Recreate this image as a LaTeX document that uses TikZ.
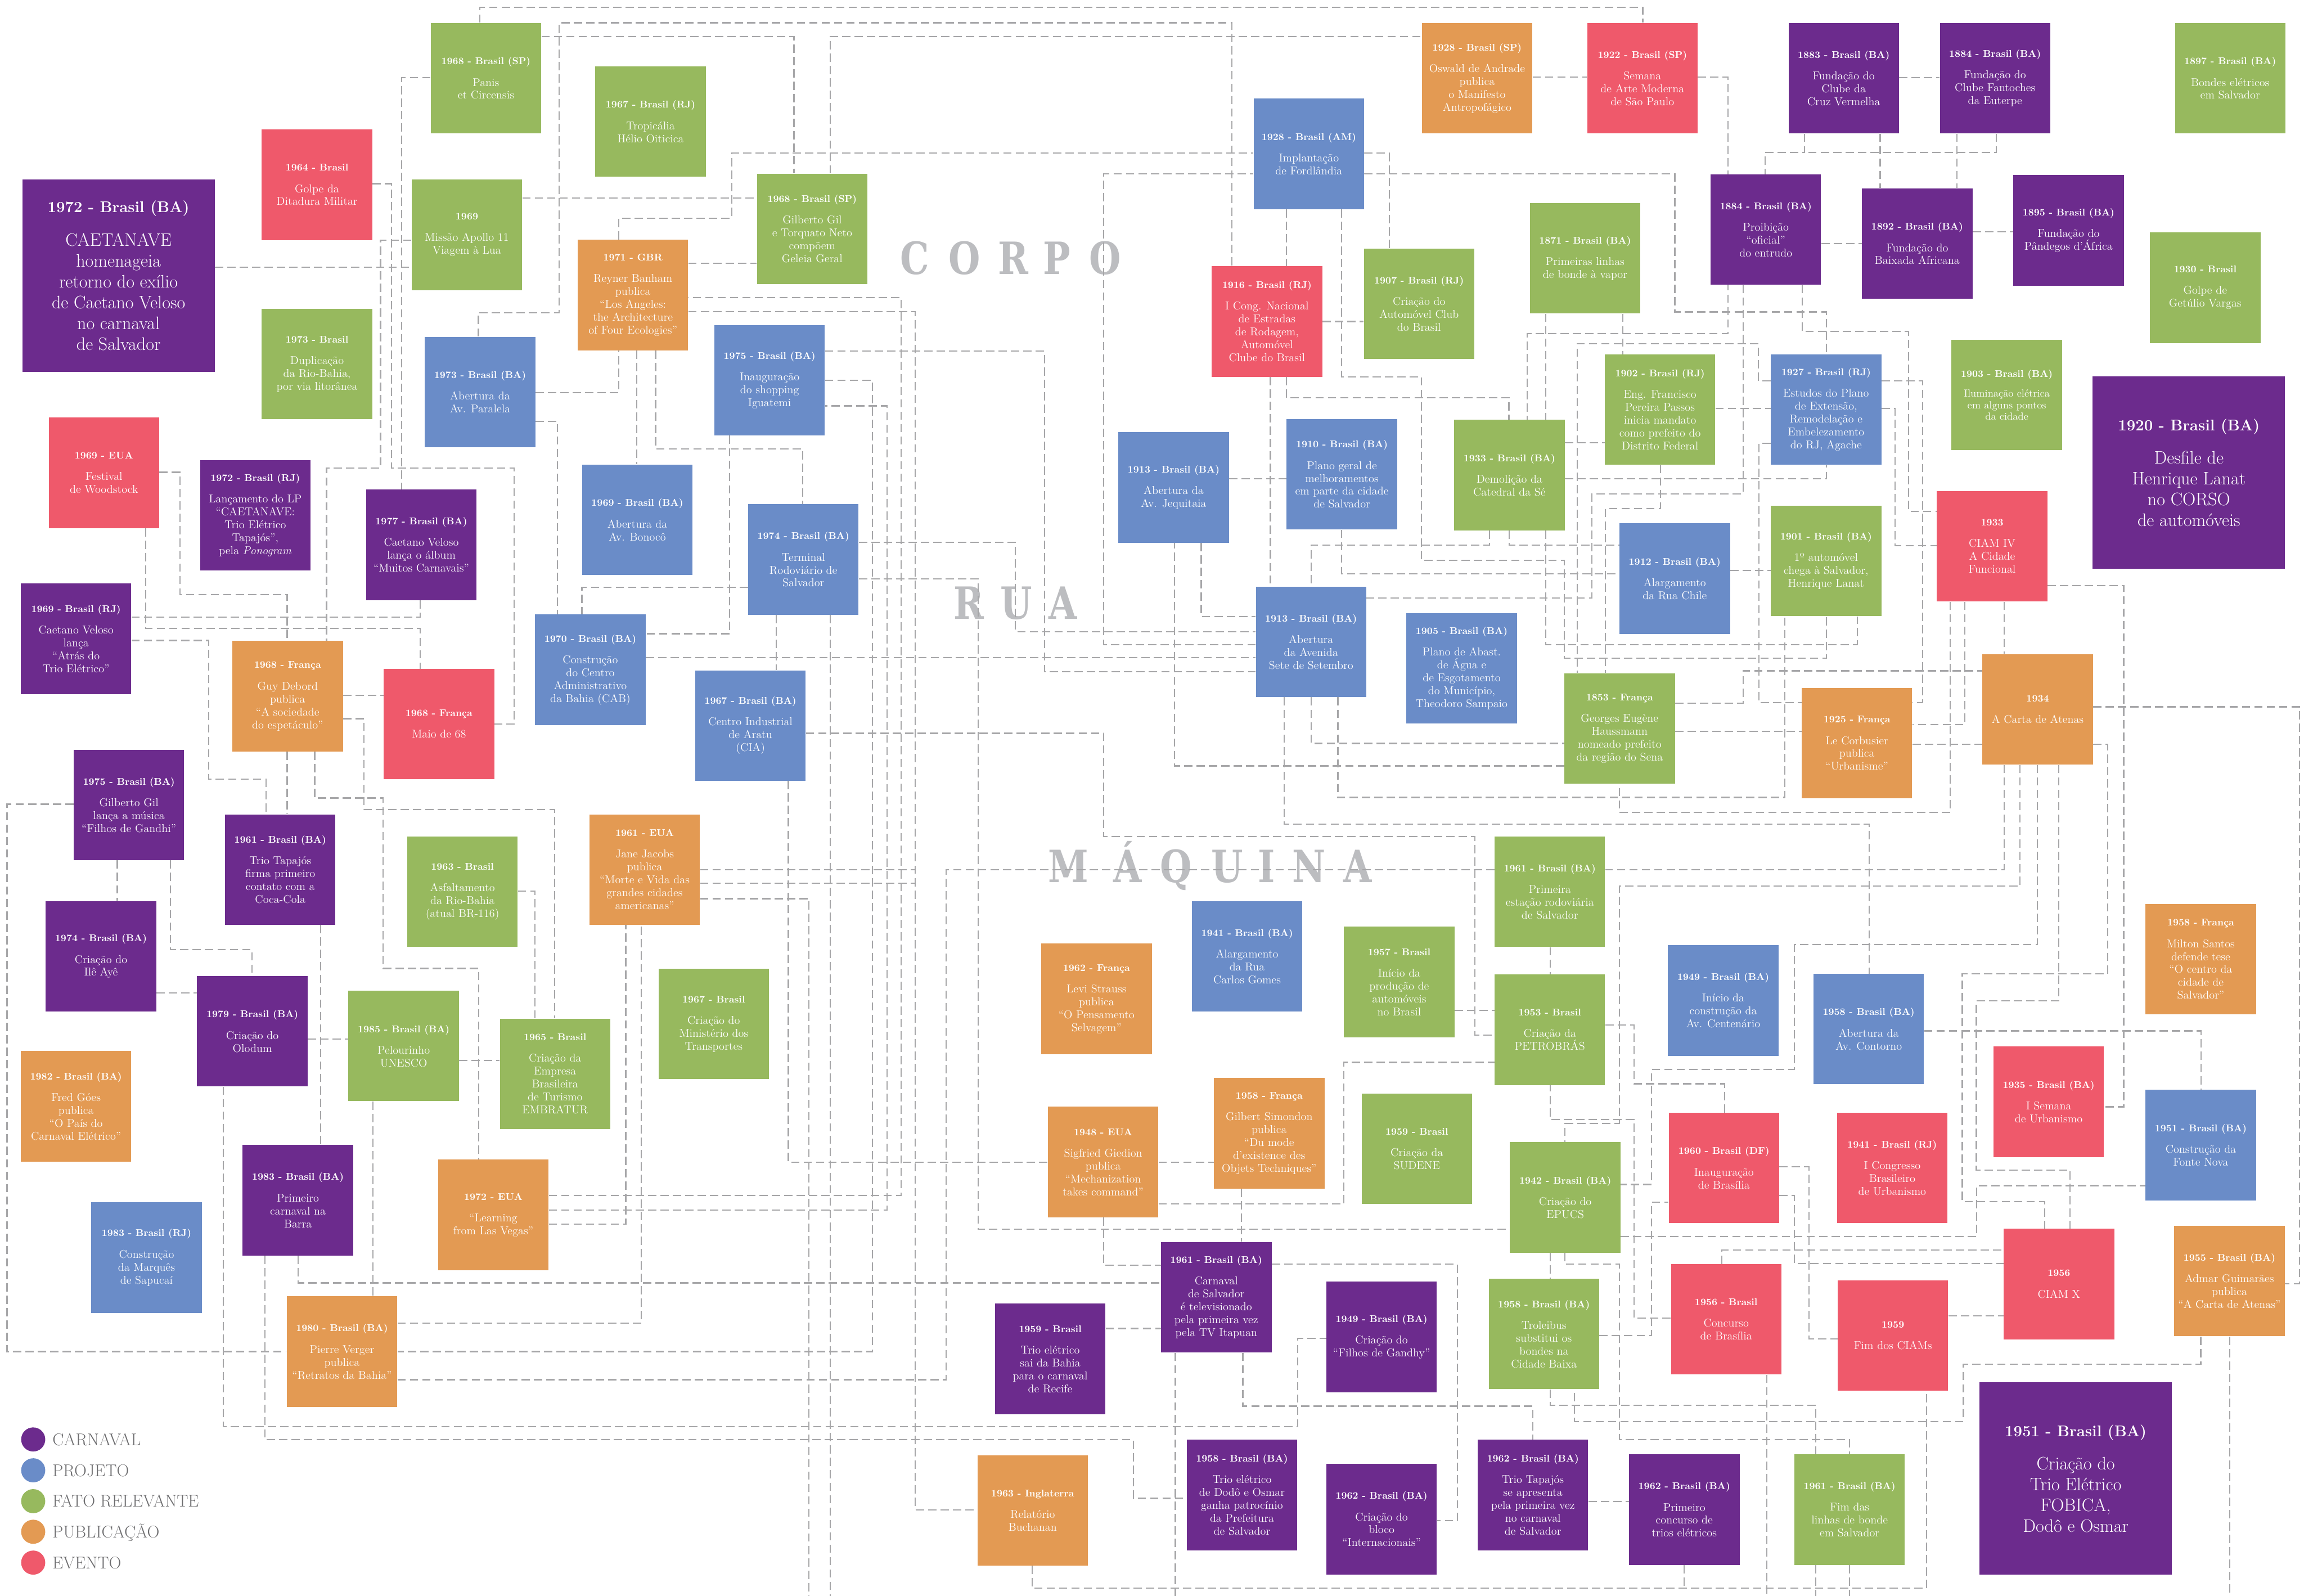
\documentclass[tikz,border=0pt]{standalone}
\usepackage{graphicx}
\usepackage{fontspec}
\newfontfamily\bigletfont{DejaVu Serif}
\definecolor{cpur}{RGB}{108,43,141}
\definecolor{cblu}{RGB}{106,140,200}
\definecolor{cgrn}{RGB}{151,185,94}
\definecolor{corg}{RGB}{227,154,83}
\definecolor{cred}{RGB}{239,89,107}
\definecolor{cline}{RGB}{166,166,168}
\definecolor{cletter}{RGB}{188,189,192}
\definecolor{clegend}{RGB}{110,110,112}
\newcommand\titf{\fontsize{9.5}{12.5}\selectfont\bfseries}
\newcommand\bodf{\fontsize{11}{12.5}\selectfont}
\tikzset{
 box/.style={anchor=north west, minimum width=3.76cm, minimum height=3.76cm, inner sep=1pt, align=center, text=white, font=\bodf},
 bigbox/.style={anchor=north west, minimum width=6.55cm, minimum height=6.55cm, inner sep=1pt, align=center, text=white, font=\fontsize{17.5}{20.2}\selectfont},
 con/.style={draw=cline, line width=1.2pt, dash pattern=on 8pt off 4pt},
 letter/.style={anchor=base, inner sep=0pt, text=cletter, font=\bigletfont\fontsize{43}{43}\selectfont\bfseries},
 legdot/.style={circle, minimum size=0.82cm, inner sep=0pt},
 legtxt/.style={anchor=base west, inner sep=0pt, text=clegend, font=\fontsize{16.5}{16.5}\selectfont},
}
\newcommand\bx[7][]{\node[box,fill=#5,#1] (#2) at (#3,#4) {{\titf #6}\\[8.3pt]#7};}
\newcommand\bbx[6]{\node[bigbox,fill=#4] (#1) at (#2,#3) {{\fontsize{15}{20.2}\selectfont\bfseries #5}\\[12pt]#6};}
\newcommand\lt[1]{\scalebox{0.82}[1]{#1}}
\pgfdeclarelayer{back}
\pgfdeclarelayer{lines}
\pgfsetlayers{back,lines,main}
\begin{document}
\begin{tikzpicture}[x=0.05cm,y=-0.05cm]
\useasboundingbox (0,0) rectangle (1568,1086);
\begin{pgfonlayer}{back}
\fill[white] (0,0) rectangle (1568,1086);
\node[letter] (lc1) at (622.5,186.8) {\lt{C}};
\node[letter] (lc2) at (656.3,186.8) {\lt{O}};
\node[letter] (lc3) at (689.6,186.8) {\lt{R}};
\node[letter] (lc4) at (719.4,186.8) {\lt{P}};
\node[letter] (lc5) at (752,186.8) {\lt{O}};
\node[letter] (lr1) at (659.5,421.2) {\lt{R}};
\node[letter] (lr2) at (691.5,421.2) {\lt{U}};
\node[letter] (lr3) at (723.5,421.2) {\lt{A}};
\node[letter] (lm1) at (727.2,600.5) {\lt{M}};
\node[letter] (lm2) at (767.5,600.5) {\lt{Á}};
\node[letter] (lm3) at (800.3,600.5) {\lt{Q}};
\node[letter] (lm4) at (835.1,600.5) {\lt{U}};
\node[letter] (lm5) at (862,600.5) {\lt{I}};
\node[letter] (lm6) at (890.8,600.5) {\lt{N}};
\node[letter] (lm7) at (924,600.5) {\lt{A}};
\end{pgfonlayer}
% ---------- boxes ----------
\bx{b1968sp}{293}{15.5}{cgrn}{1968 - Brasil (SP)}{Panis\\et Circensis}
\bx{b1967rj}{405}{45}{cgrn}{1967 - Brasil (RJ)}{Tropicália\\Hélio Oiticica}
\bx{b1964}{178}{88}{cred}{1964 - Brasil}{Golpe da\\Ditadura Militar}
\bx{b1969ap}{280}{122}{cgrn}{1969}{Missão Apollo 11\\Viagem à Lua}
\bbx{b1972ba}{15}{122}{cpur}{1972 - Brasil (BA)}{CAETANAVE\\homenageia\\retorno do exílio\\de Caetano Veloso\\no carnaval\\de Salvador}
\bx{b1968gg}{515}{118}{cgrn}{1968 - Brasil (SP)}{Gilberto Gil\\e Torquato Neto\\compõem\\Geleia Geral}
\bx{b1971}{393}{163}{corg}{1971 - GBR}{Reyner Banham\\publica\\“Los Angeles:\\the Architecture\\of Four Ecologies”}
\bx{b1973br}{178}{210}{cgrn}{1973 - Brasil}{Duplicação\\da Rio-Bahia,\\por via litorânea}
\bx{b1975ig}{486}{221}{cblu}{1975 - Brasil (BA)}{Inauguração\\do shopping\\Iguatemi}
\bx{b1973par}{289}{229}{cblu}{1973 - Brasil (BA)}{Abertura da\\Av. Paralela}
\bx{b1969eua}{33}{284}{cred}{1969 - EUA}{Festival\\de Woodstock}
\bx{b1972rj}{136}{313}{cpur}{1972 - Brasil (RJ)}{Lançamento do LP\\“CAETANAVE:\\Trio Elétrico\\Tapajós”,\\pela \textit{Ponogram}}
\bx{b1969bon}{396}{316}{cblu}{1969 - Brasil (BA)}{Abertura da\\Av. Bonocô}
\bx{b1977}{249}{333}{cpur}{1977 - Brasil (BA)}{Caetano Veloso\\lança o álbum\\“Muitos Carnavais”}
\bx{b1974ter}{509}{343}{cblu}{1974 - Brasil (BA)}{Terminal\\Rodoviário de\\Salvador}
\bx{b1969rj}{14}{397}{cpur}{1969 - Brasil (RJ)}{Caetano Veloso\\lança\\“Atrás do\\Trio Elétrico”}
\bx{b1970cab}{364}{418}{cblu}{1970 - Brasil (BA)}{Construção\\do Centro\\Administrativo\\da Bahia (CAB)}
\bx{b1968guy}{158}{436}{corg}{1968 - França}{Guy Debord\\publica\\“A sociedade\\do espetáculo”}
\bx{b1968maio}{261}{455}{cred}{1968 - França}{Maio de 68}
\bx{b1967cia}{473}{456}{cblu}{1967 - Brasil (BA)}{Centro Industrial\\de Aratu\\(CIA)}
\bx{b1975gg}{50}{510}{cpur}{1975 - Brasil (BA)}{Gilberto Gil\\lança a música\\“Filhos de Gandhi”}
\bx{b1961tap}{153}{554}{cpur}{1961 - Brasil (BA)}{Trio Tapajós\\firma primeiro\\contato com a\\Coca-Cola}
\bx{b1961eua}{401}{554}{corg}{1961 - EUA}{Jane Jacobs\\publica\\“Morte e Vida das\\grandes cidades\\americanas”}
\bx{b1963asf}{277}{569}{cgrn}{1963 - Brasil}{Asfaltamento\\da Rio-Bahia\\(atual BR-116)}
\bx{b1974ile}{31}{613}{cpur}{1974 - Brasil (BA)}{Criação do\\Ilê Ayê}
\bx{b1979}{134}{664}{cpur}{1979 - Brasil (BA)}{Criação do\\Olodum}
\bx{b1985}{237}{674}{cgrn}{1985 - Brasil (BA)}{Pelourinho\\UNESCO}
\bx{b1965}{340}{693}{cgrn}{1965 - Brasil}{Criação da\\Empresa\\Brasileira\\de Turismo\\EMBRATUR}
\bx{b1967min}{448}{659}{cgrn}{1967 - Brasil}{Criação do\\Ministério dos\\Transportes}
\bx{b1982}{14}{715}{corg}{1982 - Brasil (BA)}{Fred Góes\\publica\\“O País do\\Carnaval Elétrico”}
\bx{b1983ba}{165}{779}{cpur}{1983 - Brasil (BA)}{Primeiro\\carnaval na\\Barra}
\bx{b1983rj}{62}{818}{cblu}{1983 - Brasil (RJ)}{Construção\\da Marquês\\de Sapucaí}
\bx{b1972eua}{298}{789}{corg}{1972 - EUA}{“Learning\\from Las Vegas”}
\bx{b1980}{195}{882}{corg}{1980 - Brasil (BA)}{Pierre Verger\\publica\\“Retratos da Bahia”}
\bx{b1928sp}{967.5}{15.5}{corg}{1928 - Brasil (SP)}{Oswald de Andrade\\publica\\o Manifesto\\Antropofágico}
\bx{b1922}{1080}{15.5}{cred}{1922 - Brasil (SP)}{Semana\\de Arte Moderna\\de São Paulo}
\bx{b1928am}{853}{67}{cblu}{1928 - Brasil (AM)}{Implantação\\de Fordlândia}
\bx{b1916}{824.5}{181}{cred}{1916 - Brasil (RJ)}{I Cong. Nacional\\de Estradas\\de Rodagem,\\Automóvel\\Clube do Brasil}
\bx{b1907}{928}{169}{cgrn}{1907 - Brasil (RJ)}{Criação do\\Automóvel Club\\do Brasil}
\bx{b1871}{1041}{138}{cgrn}{1871 - Brasil (BA)}{Primeiras linhas\\de bonde à vapor}
\bx{b1902}{1092}{241}{cgrn}{1902 - Brasil (RJ)}{Eng. Francisco\\Pereira Passos\\inicia mandato\\como prefeito do\\Distrito Federal}
\bx{b1933cat}{989.5}{285.5}{cgrn}{1933 - Brasil (BA)}{Demolição da\\Catedral da Sé}
\bx{b1910}{875.5}{285}{cblu}{1910 - Brasil (BA)}{Plano geral de\\melhoramentos\\em parte da cidade\\de Salvador}
\bx{b1913jeq}{761}{294}{cblu}{1913 - Brasil (BA)}{Abertura da\\Av. Jequitaia}
\bx{b1883}{1217}{15.5}{cpur}{1883 - Brasil (BA)}{Fundação do\\Clube da\\Cruz Vermelha}
\bx{b1884f}{1320}{15.5}{cpur}{1884 - Brasil (BA)}{Fundação do\\Clube Fantoches\\da Euterpe}
\bx{b1897}{1480}{15.5}{cgrn}{1897 - Brasil (BA)}{Bondes elétricos\\em Salvador}
\bx{b1884p}{1164}{118.5}{cpur}{1884 - Brasil (BA)}{Proibição\\“oficial”\\do entrudo}
\bx{b1892}{1267}{128}{cpur}{1892 - Brasil (BA)}{Fundação do\\Baixada Africana}
\bx{b1895}{1370}{119}{cpur}{1895 - Brasil (BA)}{Fundação do\\Pândegos d’África}
\bx{b1930}{1463}{158}{cgrn}{1930 - Brasil}{Golpe de\\Getúlio Vargas}
\bx{b1927}{1205}{241}{cblu}{1927 - Brasil (RJ)}{Estudos do Plano\\de Extensão,\\Remodelação e\\Embelezamento\\do RJ, Agache}
\bx[font=\fontsize{10}{11.2}\selectfont]{b1903}{1328}{231}{cgrn}{1903 - Brasil (BA)}{Iluminação elétrica\\em alguns pontos\\da cidade}
\bbx{b1920}{1424}{256}{cpur}{1920 - Brasil (BA)}{Desfile de\\Henrique Lanat\\no CORSO\\de automóveis}
\bx{b1933ciam}{1318}{334}{cred}{1933}{CIAM IV\\A Cidade\\Funcional}
\bx{b1901}{1205}{344}{cgrn}{1901 - Brasil (BA)}{1º automóvel\\chega à Salvador,\\Henrique Lanat}
\bx{b1912}{1102}{356}{cblu}{1912 - Brasil (BA)}{Alargamento\\da Rua Chile}
\bx{b1913sete}{854.5}{399}{cblu}{1913 - Brasil (BA)}{Abertura\\da Avenida\\Sete de Setembro}
\bx{b1905}{957}{417}{cblu}{1905 - Brasil (BA)}{Plano de Abast.\\de Água e\\de Esgotamento\\do Município,\\Theodoro Sampaio}
\bx{b1853}{1064.5}{458}{cgrn}{1853 - França}{Georges Eugène\\Haussmann\\nomeado prefeito\\da região do Sena}
\bx{b1925}{1226}{468}{corg}{1925 - França}{Le Corbusier\\publica\\“Urbanisme”}
\bx{b1934}{1349}{445}{corg}{1934}{A Carta de Atenas}
\bx{b1961prim}{1017}{569}{cgrn}{1961 - Brasil (BA)}{Primeira\\estação rodoviária\\de Salvador}
\bx{b1941ba}{811}{613}{cblu}{1941 - Brasil (BA)}{Alargamento\\da Rua\\Carlos Gomes}
\bx{b1957}{914.5}{630.5}{cgrn}{1957 - Brasil}{Início da\\produção de\\automóveis\\no Brasil}
\bx{b1962levi}{708.5}{642}{corg}{1962 - França}{Levi Strauss\\publica\\“O Pensamento\\Selvagem”}
\bx{b1949cent}{1135}{643}{cblu}{1949 - Brasil (BA)}{Início da\\construção da\\Av. Centenário}
\bx{b1953}{1017}{663}{cgrn}{1953 - Brasil}{Criação da\\PETROBRÁS}
\bx{b1958cont}{1234}{662.5}{cblu}{1958 - Brasil (BA)}{Abertura da\\Av. Contorno}
\bx{b1958milton}{1460}{615}{corg}{1958 - França}{Milton Santos\\defende tese\\“O centro da\\cidade de\\Salvador”}
\bx{b1935}{1356.5}{712}{cred}{1935 - Brasil (BA)}{I Semana\\de Urbanismo}
\bx{b1951fonte}{1460}{741.5}{cblu}{1951 - Brasil (BA)}{Construção da\\Fonte Nova}
\bx{b1948}{713}{753}{corg}{1948 - EUA}{Sigfried Giedion\\publica\\“Mechanization\\takes command”}
\bx{b1958sim}{826}{733.5}{corg}{1958 - França}{Gilbert Simondon\\publica\\“Du mode\\d’existence des\\Objets Techniques”}
\bx{b1959sud}{926.5}{744}{cgrn}{1959 - Brasil}{Criação da\\SUDENE}
\bx{b1942}{1027.5}{777}{cgrn}{1942 - Brasil (BA)}{Criação do\\EPUCS}
\bx{b1960df}{1135.5}{757}{cred}{1960 - Brasil (DF)}{Inauguração\\de Brasília}
\bx{b1941rj}{1250}{757}{cred}{1941 - Brasil (RJ)}{I Congresso\\Brasileiro\\de Urbanismo}
\bx{b1955}{1479.5}{834}{corg}{1955 - Brasil (BA)}{Admar Guimarães\\publica\\“A Carta de Atenas”}
\bx{b1956ciam}{1363.5}{836}{cred}{1956}{CIAM X}
\bx{b1961carn}{790}{845}{cpur}{1961 - Brasil (BA)}{Carnaval\\de Salvador\\é televisionado\\pela primeira vez\\pela TV Itapuan}
\bx{b1956bra}{1137}{860}{cred}{1956 - Brasil}{Concurso\\de Brasília}
\bx{b1958trol}{1013}{870}{cgrn}{1958 - Brasil (BA)}{Troleibus\\substitui os\\bondes na\\Cidade Baixa}
\bx{b1959fim}{1250.5}{871}{cred}{1959}{Fim dos CIAMs}
\bx{b1949gan}{902.5}{872}{cpur}{1949 - Brasil (BA)}{Criação do\\“Filhos de Gandhy”}
\bx{b1959rec}{677}{887}{cpur}{1959 - Brasil}{Trio elétrico\\sai da Bahia\\para o carnaval\\de Recife}
\bbx{b1951big}{1347}{940.5}{cpur}{1951 - Brasil (BA)}{Criação do\\Trio Elétrico\\FOBICA,\\Dodô e Osmar}
\bx{b1958dodo}{807.5}{979.5}{cpur}{1958 - Brasil (BA)}{Trio elétrico\\de Dodô e Osmar\\ganha patrocínio\\da Prefeitura\\de Salvador}
\bx{b1962tap}{1005.5}{979.5}{cpur}{1962 - Brasil (BA)}{Trio Tapajós\\se apresenta\\pela primeira vez\\no carnaval\\de Salvador}
\bx{b1962prim}{1108.5}{989.5}{cpur}{1962 - Brasil (BA)}{Primeiro\\concurso de\\trios elétricos}
\bx{b1961fim}{1221}{989.5}{cgrn}{1961 - Brasil (BA)}{Fim das\\linhas de bonde\\em Salvador}
\bx{b1963ing}{665}{990}{corg}{1963 - Inglaterra}{Relatório\\Buchanan}
\bx{b1962int}{902.5}{996}{cpur}{1962 - Brasil (BA)}{Criação do\\bloco\\“Internacionais”}
% ---------- legend ----------
\node[legdot,fill=cpur] (ld1) at (22.6,979.5) {};
\node[legtxt] (lt1) at (35.6,983.5) {CARNAVAL};
\node[legdot,fill=cblu] (ld2) at (22.6,1000.5) {};
\node[legtxt] (lt2) at (35.6,1004.5) {PROJETO};
\node[legdot,fill=cgrn] (ld3) at (22.6,1021.5) {};
\node[legtxt] (lt3) at (35.6,1025.5) {FATO RELEVANTE};
\node[legdot,fill=corg] (ld4) at (22.6,1042.3) {};
\node[legtxt] (lt4) at (35.6,1046.3) {PUBLICAÇÃO};
\node[legdot,fill=cred] (ld5) at (22.6,1063.3) {};
\node[legtxt] (lt5) at (35.6,1067.3) {EVENTO};
% ---------- free ends / joins ----------
\coordinate (e1) at (550.6,1086);
\coordinate (e2) at (564.9,1086);
\coordinate (e3) at (1235.6,1086);
\coordinate (e4) at (1258.7,1086);
\coordinate (e5) at (1202.5,1086);
\coordinate (e6) at (1517.3,1086);
\coordinate (e7) at (799.9,1086);
\coordinate (j1) at (622.8,591.7);
\coordinate (j2) at (622.8,601);
\coordinate (j3) at (1146,1080.8);
\coordinate (j4) at (1228,103.7);
% ---------- connectors ----------
\begin{pgfonlayer}{lines}
\draw[con] (326.6,0 |- b1968sp.north) -- (326.6,5) -- (1118,5) -- (1118,0 |- b1922.north);
\draw[con] (325.6,0 |- b1973par.north) -- (325.6,212.8) -- (380.5,212.8) -- (380.5,15.5) -- (838.3,15.5) -- (838.3,0 |- b1916.north);
\draw[con] (b1968sp.east |- 0,25) -- (540.3,25) -- (540.3,0 |- b1968gg.north);
\draw[con] (564.9,0 |- b1968gg.north) -- (564.9,25) -- (b1928sp.west |- 0,25);
\draw[con] (b1968sp.west |- 0,52.9) -- (273.4,52.9) -- (273.4,0 |- b1977.north);
\draw[con] (b1964.east |- 0,125) -- (266.4,125) -- (266.4,318.6) -- (350,318.6) -- (350,492.7) -- (b1968maio.east |- 0,492.7);
\draw[con] (b1969ap.west |- 0,163.4) -- (259,163.4) -- (259,318.6) -- (222.2,318.6) -- (222.2,0 |- b1968guy.north);
\draw[con] (b1972ba.east |- 0,181.7) -- (b1969ap.west |- 0,181.7);
\draw[con] (b1969ap.east |- 0,134.6) -- (b1968gg.west |- 0,134.6);
\draw[con] (b1973par.east |- 0,267.3) -- (421.1,267.3) -- (421.1,0 |- b1971.south);
\draw[con] (b1973par.east |- 0,286.6) -- (379.5,286.6) -- (379.5,0 |- b1970cab.north);
\draw[con] (b1969eua.east |- 0,321.4) -- (122.4,321.4) -- (122.4,404.5) -- (195.4,404.5) -- (195.4,0 |- b1968guy.north);
\draw[con] (99,0 |- b1969eua.south) -- (99,427.7) -- (286,427.7) -- (286,0 |- b1968maio.north);
\draw[con] (286,0 |- b1977.south) -- (286,420) -- (b1969rj.east |- 0,420);
\draw[con] (b1969rj.east |- 0,435.8) -- (142,435.8) -- (142,530.3) -- (181,530.3) -- (181,0 |- b1961tap.north);
\draw[con] (195.4,0 |- b1968guy.south) -- (195.4,0 |- b1961tap.north);
\draw[con] (b1968guy.east |- 0,473.2) -- (b1968maio.west |- 0,473.2);
\draw[con] (b1968guy.east |- 0,489) -- (247.6,489) -- (247.6,551) -- (377.5,551) -- (377.5,0 |- b1965.north);
\draw[con] (214.2,0 |- b1968guy.south) -- (214.2,543) -- (260.8,543) -- (260.8,659) -- (325.8,659) -- (325.8,0 |- b1972eua.north);
\draw[con] (b1975gg.west |- 0,547.2) -- (4.8,547.2) -- (4.8,919.7) -- (b1980.west |- 0,919.7);
\draw[con] (79.8,0 |- b1975gg.south) -- (79.8,0 |- b1974ile.north);
\draw[con] (116,0 |- b1975gg.south) -- (116,646.3) -- (171.6,646.3) -- (171.6,0 |- b1979.north);
\draw[con] (b1974ile.east |- 0,675.5) -- (b1979.west |- 0,675.5);
\draw[con] (218.2,0 |- b1961tap.south) -- (218.2,0 |- b1983ba.north);
\draw[con] (b1963asf.east |- 0,606.4) -- (364,606.4) -- (364,0 |- b1965.north);
\draw[con] (b1979.east |- 0,707) -- (b1985.west |- 0,707);
\draw[con] (b1985.east |- 0,721.5) -- (b1965.west |- 0,721.5);
\draw[con] (152,0 |- b1979.south) -- (152,970.7) -- (883,970.7) -- (883,910.7) -- (b1949gan.west |- 0,910.7);
\draw[con] (180.3,0 |- b1983ba.south) -- (180.3,979.7) -- (771.3,979.7) -- (771.3,1019.6) -- (b1958dodo.west |- 0,1019.6);
\draw[con] (203,0 |- b1983ba.south) -- (203,873) -- (b1961carn.west |- 0,873);
\draw[con] (253.8,0 |- b1985.south) -- (253.8,0 |- b1980.north);
\draw[con] (b1980.east |- 0,900.5) -- (436.4,900.5) -- (436.4,0 |- b1961eua.south);
\draw[con] (b1975ig.east |- 0,258.8) -- (593.7,258.8) -- (593.7,919.7) -- (b1980.east |- 0,919.7);
\draw[con] (b1980.east |- 0,938.8) -- (643.9,938.8) -- (643.9,591.7) -- (b1961prim.west |- 0,591.7);
\draw[con] (b1971.east |- 0,212) -- (622.8,212) -- (622.8,1027.3) -- (b1963ing.west |- 0,1027.3);
\draw[con] (b1961eua.east |- 0,591.7) -- (j1);
\draw[con] (b1961eua.east |- 0,601) -- (j2);
\draw[con] (b1972eua.east |- 0,813.4) -- (613.3,813.4) -- (613.3,202.6) -- (b1971.east |- 0,202.6);
\draw[con] (b1972eua.east |- 0,823.4) -- (603.7,823.4) -- (603.7,276.2) -- (b1975ig.east |- 0,276.2);
\draw[con] (b1972eua.east |- 0,833) -- (425.9,833) -- (425.9,0 |- b1961eua.south);
\draw[con] (536.5,0 |- b1967cia.south) -- (536.5,791) -- (b1948.west |- 0,791);
\draw[con] (b1961eua.east |- 0,611.5) -- (550.6,611.5) -- (e1);
\draw[con] (564.9,0 |- b1974ter.south) -- (e2);
\draw[con] (b1974ter.east |- 0,393.8) -- (665.7,393.8) -- (665.7,836.5) -- (b1942.west |- 0,836.5);
\draw[con] (751,0 |- b1948.south) -- (751,861) -- (b1961carn.west |- 0,861);
\draw[con] (b1959rec.east |- 0,904) -- (b1961carn.west |- 0,904);
\draw[con] (702.3,0 |- b1963ing.south) -- (702.3,1080.8) -- (1311,1080.8) -- (1311,0 |- b1959fim.south);
\draw[con] (1146,0 |- b1962prim.south) -- (j3);
\draw[con] (1235.6,0 |- b1961fim.south) -- (e3);
\draw[con] (1258.7,0 |- b1961fim.south) -- (e4);
\draw[con] (1202.5,0 |- b1956bra.south) -- (e5);
\draw[con] (1517.3,0 |- b1955.south) -- (e6);
\draw[con] (799.9,0 |- b1961carn.south) -- (e7);
\draw[con] (1497.7,0 |- b1955.south) -- (1497.7,928.4) -- (1336.2,928.4) -- (1336.2,967.2) -- (1071.5,967.2) -- (1071.5,0 |- b1958trol.south);
\draw[con] (1055,0 |- b1958trol.south) -- (1055,956.1) -- (1235.6,956.1) -- (1235.6,0 |- b1961fim.north);
\draw[con] (1065,0 |- b1942.south) -- (1065,860.3) -- (1102,860.3) -- (1102,979.7) -- (1258.7,979.7) -- (1258.7,0 |- b1961fim.north);
\draw[con] (1055,0 |- b1942.south) -- (1055,0 |- b1958trol.north);
\draw[con] (1386.6,0 |- b1934.south) -- (1386.6,642.8) -- (1221.3,642.8) -- (1221.3,727.6) -- (1124,727.6) -- (1124,806) -- (b1942.east |- 0,806);
\draw[con] (b1942.east |- 0,841.4) -- (1345.2,841.4) -- (1345.2,806.8) -- (b1951fonte.west |- 0,806.8);
\draw[con] (b1958trol.east |- 0,908.8) -- (1124,908.8) -- (1124,818) -- (b1960df.west |- 0,818);
\draw[con] (b1956bra.west |- 0,897) -- (1112,897) -- (1112,761.7) -- (1055,761.7) -- (1055,0 |- b1953.south);
\draw[con] (b1953.east |- 0,697.6) -- (1112,697.6) -- (1112,737.5) -- (1173.6,737.5) -- (1173.6,0 |- b1960df.north);
\draw[con] (1374.8,0 |- b1934.south) -- (1374.8,603) -- (1102,603) -- (1102,764.5) -- (1065,764.5) -- (1065,0 |- b1942.north);
\draw[con] (845.8,0 |- b1961carn.south) -- (845.8,956.8) -- (1043.2,956.8) -- (1043.2,0 |- b1962tap.north);
\draw[con] (845,0 |- b1958sim.south) -- (845,0 |- b1961carn.north);
\draw[con] (b1948.east |- 0,791) -- (b1958sim.west |- 0,791);
\draw[con] (b1948.east |- 0,819.2) -- (914.5,819.2) -- (914.5,722.9) -- (b1953.west |- 0,722.9);
\draw[con] (b1962tap.east |- 0,1021.7) -- (b1962prim.west |- 0,1021.7);
\draw[con] (b1961carn.east |- 0,860.3) -- (991.8,860.3) -- (991.8,1034.7) -- (b1962int.east |- 0,1034.7);
\draw[con] (b1928sp.east |- 0,52.4) -- (b1922.west |- 0,52.4);
\draw[con] (b1922.east |- 0,52.4) -- (1176.1,52.4) -- (1176.1,227) -- (1039.4,227) -- (1039.4,0 |- b1933cat.north);
\draw[con] (1052,0 |- b1871.south) -- (1052,0 |- b1933cat.north);
\draw[con] (1104.4,0 |- b1871.south) -- (1104.4,0 |- b1902.north);
\draw[con] (b1927.west |- 0,259.2) -- (1196.7,259.2) -- (1196.7,233.9) -- (1073.3,233.9) -- (1073.3,0 |- b1853.north);
\draw[con] (b1916.east |- 0,218.8) -- (b1907.west |- 0,218.8);
\draw[con] (864.6,0 |- b1916.south) -- (864.6,0 |- b1913sete.north);
\draw[con] (875.6,0 |- b1916.south) -- (875.6,270.6) -- (1026.9,270.6) -- (1026.9,0 |- b1933cat.north);
\draw[con] (875.6,0 |- b1928am.south) -- (875.6,0 |- b1916.north);
\draw[con] (b1913jeq.east |- 0,325.8) -- (b1910.west |- 0,325.8);
\draw[con] (b1933cat.east |- 0,325.8) -- (1243,325.8) -- (1243,0 |- b1927.south);
\draw[con] (b1933cat.east |- 0,301.2) -- (b1902.west |- 0,301.2);
\draw[con] (b1902.east |- 0,278) -- (b1927.west |- 0,278);
\draw[con] (1130,0 |- b1902.south) -- (1130,346.2) -- (1092.4,346.2) -- (1092.4,0 |- b1853.north);
\draw[con] (1186.2,0 |- b1884p.south) -- (1186.2,336) -- (1083.3,336) -- (1083.3,406.8) -- (b1913sete.east |- 0,406.8);
\draw[con] (817.5,0 |- b1913jeq.south) -- (817.5,419.6) -- (b1913sete.west |- 0,419.6);
\draw[con] (b1974ter.east |- 0,369) -- (691,369) -- (691,429.8) -- (b1913sete.west |- 0,429.8);
\draw[con] (b1913sete.west |- 0,438.6) -- (751.2,438.6) -- (751.2,118.4) -- (b1928am.west |- 0,118.4);
\draw[con] (b1970cab.east |- 0,447.4) -- (b1913sete.west |- 0,447.4);
\draw[con] (b1975ig.east |- 0,239) -- (710.8,239) -- (710.8,457.2) -- (b1913sete.west |- 0,457.2);
\draw[con] (b1974ter.west |- 0,399.6) -- (396,399.6) -- (396,0 |- b1970cab.north);
\draw[con] (446.2,0 |- b1971.south) -- (446.2,305.6) -- (546.3,305.6) -- (546.3,0 |- b1974ter.north);
\draw[con] (496.6,0 |- b1975ig.south) -- (496.6,431.2) -- (b1970cab.east |- 0,431.2);
\draw[con] (433.4,0 |- b1971.south) -- (433.4,0 |- b1969bon.north);
\draw[con] (421.1,0 |- b1971.north) -- (421.1,148.5) -- (497.9,148.5) -- (497.9,104.2) -- (b1928am.west |- 0,104.2);
\draw[con] (b1971.east |- 0,179.2) -- (b1968gg.west |- 0,179.2);
\draw[con] (b1928am.east |- 0,104.2) -- (945.4,104.2) -- (945.4,0 |- b1907.north);
\draw[con] (b1928am.east |- 0,118.4) -- (1139.8,118.4) -- (1139.8,212.3) -- (1243.1,212.3) -- (1243.1,0 |- b1927.north);
\draw[con] (913,0 |- b1928am.south) -- (913,256.4) -- (967.4,256.4) -- (967.4,381.3) -- (1064.5,381.3) -- (1064.5,447.9) -- (1243.1,447.9) -- (1243.1,0 |- b1901.south);
\draw[con] (913,0 |- b1910.south) -- (913,390.5) -- (b1912.west |- 0,390.5);
\draw[con] (1013.6,0 |- b1933cat.south) -- (1013.6,370.9) -- (892.2,370.9) -- (892.2,0 |- b1913sete.north);
\draw[con] (1027,0 |- b1933cat.south) -- (1027,370.9) -- (b1912.west |- 0,370.9);
\draw[con] (1228,0 |- b1883.south) -- (1228,103.7) -- (1201.2,103.7) -- (1201.2,0 |- b1884p.north);
\draw[con] (1358.5,0 |- b1884f.south) -- (1358.5,103.7) -- (j4);
\draw[con] (1279.5,0 |- b1883.south) -- (1279.5,0 |- b1892.north);
\draw[con] (1331.7,0 |- b1884f.south) -- (1331.7,0 |- b1892.north);
\draw[con] (b1883.east |- 0,52.9) -- (b1884f.west |- 0,52.9);
\draw[con] (b1884p.east |- 0,165.7) -- (b1892.west |- 0,165.7);
\draw[con] (b1892.east |- 0,157.8) -- (b1895.west |- 0,157.8);
\draw[con] (1226.6,0 |- b1884p.south) -- (1226.6,225.6) -- (1299,225.6) -- (1299,348.1) -- (b1933ciam.west |- 0,348.1);
\draw[con] (b1927.east |- 0,278) -- (1289.8,278) -- (1289.8,371.3) -- (b1933ciam.west |- 0,371.3);
\draw[con] (1364,0 |- b1933ciam.south) -- (1364,0 |- b1934.north);
\draw[con] (1327.2,0 |- b1933ciam.south) -- (1327.2,552.8) -- (1102,552.8) -- (1102,0 |- b1853.south);
\draw[con] (1337,0 |- b1933ciam.south) -- (1337,493) -- (b1925.east |- 0,493);
\draw[con] (b1933ciam.east |- 0,398.4) -- (1445.3,398.4) -- (1445.3,753.2) -- (b1935.east |- 0,753.2);
\draw[con] (b1934.east |- 0,481) -- (1564.9,481) -- (1564.9,873.7) -- (b1955.east |- 0,873.7);
\draw[con] (b1934.east |- 0,506.6) -- (1434.5,506.6) -- (1434.5,662.5) -- (1335.4,662.5) -- (1335.4,817.6) -- (1391.4,817.6) -- (1391.4,0 |- b1956ciam.north);
\draw[con] (1401.1,0 |- b1934.south) -- (1401.1,681) -- (1345,681) -- (1345,796.1) -- (1408.7,796.1) -- (1408.7,0 |- b1956ciam.north);
\draw[con] (1363.8,0 |- b1934.south) -- (1363.8,591.7) -- (b1961prim.east |- 0,591.7);
\draw[con] (b1925.east |- 0,506.6) -- (b1934.west |- 0,506.6);
\draw[con] (b1853.east |- 0,478.5) -- (1186.2,478.5) -- (1186.2,456.5) -- (b1934.west |- 0,456.5);
\draw[con] (b1853.east |- 0,497.5) -- (b1925.west |- 0,497.5);
\draw[con] (910.5,0 |- b1913sete.south) -- (910.5,542.6) -- (1214.8,542.6) -- (1214.8,0 |- b1901.south);
\draw[con] (1052,0 |- b1933cat.south) -- (1052,438.6) -- (1263.9,438.6) -- (1263.9,0 |- b1901.south);
\draw[con] (b1912.east |- 0,388.2) -- (b1901.west |- 0,388.2);
\draw[con] (892.2,0 |- b1913sete.south) -- (892.2,505.9) -- (b1853.west |- 0,505.9);
\draw[con] (b1853.west |- 0,521.2) -- (799.2,521.2) -- (799.2,0 |- b1913jeq.south);
\draw[con] (873.9,0 |- b1913sete.south) -- (873.9,560.9) -- (1272,560.9) -- (1272,0 |- b1958cont.north);
\draw[con] (b1967cia.east |- 0,499) -- (751.2,499) -- (751.2,569.2) -- (1003.8,569.2) -- (1003.8,704.4) -- (b1953.west |- 0,704.4);
\draw[con] (b1957.east |- 0,687.4) -- (b1953.west |- 0,687.4);
\draw[con] (1055,0 |- b1961prim.south) -- (1055,0 |- b1953.north);
\draw[con] (b1958cont.east |- 0,701.5) -- (1497.8,701.5) -- (1497.8,0 |- b1951fonte.north);
\draw[con] (b1960df.east |- 0,794) -- (1231,794) -- (1231,911.1) -- (b1959fim.west |- 0,911.1);
\draw[con] (b1960df.east |- 0,813.5) -- (1221.3,813.5) -- (1221.3,859.9) -- (b1956ciam.west |- 0,859.9);
\draw[con] (1171.8,0 |- b1956bra.north) -- (1171.8,850.6) -- (b1956ciam.west |- 0,850.6);
\draw[con] (b1959fim.east |- 0,895.4) -- (b1956ciam.west |- 0,895.4);
\draw[con] (528.2,0 |- b1974ter.south) -- (528.2,0 |- b1967cia.north);
\draw[con] (b1927.west |- 0,301.7) -- (1197,301.7) -- (1197,478) -- (b1925.west |- 0,478);
\draw[con] (b1927.east |- 0,259.2) -- (1308.3,259.2) -- (1308.3,478) -- (b1925.east |- 0,478);
\end{pgfonlayer}
\end{tikzpicture}
\end{document}
